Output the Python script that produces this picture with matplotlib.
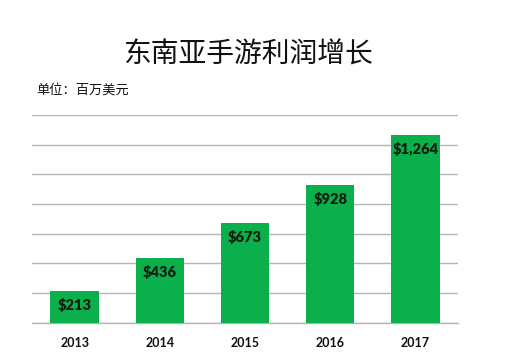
import matplotlib
matplotlib.use("Agg")
import matplotlib.pyplot as plt

years = ["2013", "2014", "2015", "2016", "2017"]
profits = [213, 436, 673, 928, 1264]
labels = ["$213", "$436", "$673", "$928", "$1,264"]
grid_ticks = [0, 200, 400, 600, 800, 1000, 1200, 1400]

plt.rcParams['font.family'] = ['Noto Sans CJK SC', 'DejaVu Sans']

fig = plt.figure(figsize=(5.06, 3.6), dpi=100)
ax = fig.add_axes([32/506, 37.3/360, 426/506, 207.7/360])

x = list(range(len(years)))
ax.bar(x, profits, width=0.57, color="#0bb04c", zorder=3)
ax.set_xlim(-0.5, 4.5)
ax.set_ylim(0, 1400)
ax.set_yticks(grid_ticks)
ax.yaxis.grid(True, color="#b4b4b4", linewidth=1.0, zorder=0)
ax.tick_params(axis='y', left=False, labelleft=False)
ax.tick_params(axis='x', bottom=False, pad=7)
ax.set_xticks(x)
ax.set_xticklabels(years, fontsize=9, fontweight='bold', family=['Lato', 'DejaVu Sans'], color="#111111")
for s in ['top', 'right', 'left']:
    ax.spines[s].set_visible(False)
ax.spines['bottom'].set_color("#b4b4b4")
ax.spines['bottom'].set_linewidth(1.0)

for xi, v, lab in zip(x, profits, labels):
    ax.annotate(lab, (xi, v), xytext=(0, -10), textcoords='offset points',
                ha='center', va='center', fontsize=10.5, fontweight='heavy',
                family=['Lato', 'DejaVu Sans'], color="#10200f", zorder=4)

fig.text(248/506, 1 - 55/360, "东南亚手游利润增长", ha='center', va='center', fontsize=20, color="#111111")
fig.text(36/506, 1 - 90/360, "单位：百万美元", ha='left', va='center', fontsize=9.5, color="#111111")

fig.savefig("out.png", dpi=100)
